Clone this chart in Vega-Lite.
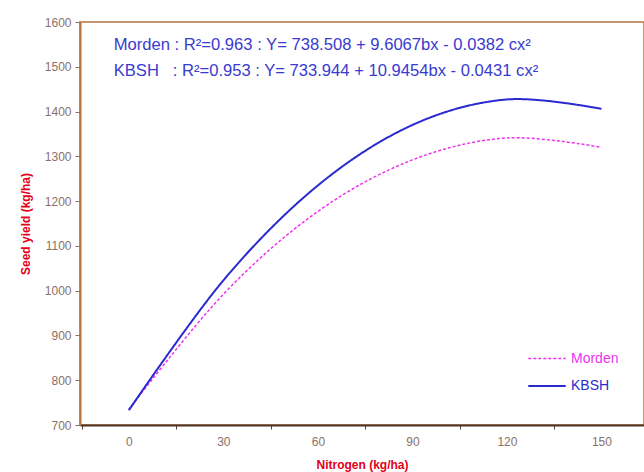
{
  "$schema": "https://vega.github.io/schema/vega-lite/v6.json",
  "width": 564,
  "height": 403,
  "autosize": {"type": "none"},
  "padding": {"left": 80, "top": 22, "right": 0, "bottom": 47},
  "background": "white",
  "config": {
    "font": "Liberation Sans",
    "view": {"stroke": "#b8733c", "strokeWidth": 1.5}
  },
  "layer": [
    {
      "data": {
        "values": [
          {"n": 0, "series": "Morden", "yield": 735},
          {"n": 30, "series": "Morden", "yield": 992},
          {"n": 60, "series": "Morden", "yield": 1177},
          {"n": 90, "series": "Morden", "yield": 1292},
          {"n": 120, "series": "Morden", "yield": 1341},
          {"n": 150, "series": "Morden", "yield": 1320},
          {"n": 0, "series": "KBSH", "yield": 733},
          {"n": 30, "series": "KBSH", "yield": 1023},
          {"n": 60, "series": "KBSH", "yield": 1235},
          {"n": 90, "series": "KBSH", "yield": 1370},
          {"n": 120, "series": "KBSH", "yield": 1427},
          {"n": 150, "series": "KBSH", "yield": 1406}
        ]
      },
      "mark": {"type": "line", "interpolate": "cardinal", "clip": true},
      "encoding": {
        "x": {
          "field": "n",
          "type": "quantitative",
          "scale": {"domain": [-15.5, 163.5], "nice": false, "zero": false},
          "axis": {
            "title": "Nitrogen (kg/ha)",
            "values": [-15, 0, 15, 30, 45, 60, 75, 90, 105, 120, 135, 150],
            "labelExpr": "datum.value % 30 === 0 ? datum.label : ''",
            "tickOpacity": {"condition": {"test": "datum.value % 30 === 0", "value": 0}, "value": 1},
            "grid": false,
            "domainColor": "#4a3426",
            "domainWidth": 2,
            "tickColor": "#5a4030",
            "tickSize": 4,
            "labelPadding": 7,
            "labelColor": "#8c6f68",
            "labelFontSize": 12,
            "labelFont": "Liberation Sans",
            "titleColor": "#e3001b",
            "titleFont": "Liberation Sans",
            "titleFontSize": 12,
            "titleFontWeight": "bold",
            "titlePadding": 12
          }
        },
        "y": {
          "field": "yield",
          "type": "quantitative",
          "scale": {"domain": [700, 1600], "nice": false, "zero": false},
          "axis": {
            "title": "Seed yield (kg/ha)",
            "values": [700, 800, 900, 1000, 1100, 1200, 1300, 1400, 1500, 1600],
            "format": "d",
            "grid": false,
            "domainColor": "#b8733c",
            "domainWidth": 2,
            "tickColor": "#8c6f68",
            "tickSize": 5,
            "labelPadding": 4,
            "labelColor": "#8c6f68",
            "labelFontSize": 12,
            "labelFont": "Liberation Sans",
            "titleColor": "#e3001b",
            "titleFont": "Liberation Sans",
            "titleFontSize": 12,
            "titleFontWeight": "bold",
            "titlePadding": 12
          }
        },
        "color": {
          "field": "series",
          "type": "nominal",
          "sort": ["Morden", "KBSH"],
          "scale": {"domain": ["Morden", "KBSH"], "range": ["#ee33ee", "#2a2ad0"]},
          "legend": {
            "title": null,
            "orient": "none",
            "legendX": 447,
            "legendY": 317,
            "padding": 0,
            "symbolType": "stroke",
            "symbolSize": 1400,
            "symbolStrokeWidth": 2,
            "labelFontSize": 14,
            "labelFont": "Liberation Sans",
            "rowPadding": 0,
            "labelOffset": 4,
            "encode": {
              "labels": {"update": {"fill": {"signal": "datum.value === 'Morden' ? '#ee33ee' : '#2a2ad0'"}}}
            }
          }
        },
        "strokeDash": {
          "field": "series",
          "type": "nominal",
          "sort": ["Morden", "KBSH"],
          "scale": {"domain": ["Morden", "KBSH"], "range": [[3, 2], [1, 0]]},
          "legend": null
        },
        "strokeWidth": {
          "field": "series",
          "type": "nominal",
          "scale": {"domain": ["Morden", "KBSH"], "range": [1.5, 2]},
          "legend": null
        }
      }
    },
    {
      "data": {"values": [{"label": "Morden : R²=0.963 : Y= 738.508 + 9.6067bx - 0.0382 cx²"}]},
      "mark": {"type": "text", "align": "left", "baseline": "alphabetic", "font": "Liberation Sans", "fontSize": 16.6, "color": "#3a3ad0"},
      "encoding": {
        "x": {"datum": -4.8},
        "y": {"datum": 1537},
        "text": {"field": "label"}
      }
    },
    {
      "data": {"values": [{"label": "KBSH\u00a0\u00a0\u00a0: R²=0.953 : Y= 733.944 + 10.9454bx - 0.0431 cx²"}]},
      "mark": {"type": "text", "align": "left", "baseline": "alphabetic", "font": "Liberation Sans", "fontSize": 16.6, "color": "#3a3ad0"},
      "encoding": {
        "x": {"datum": -4.8},
        "y": {"datum": 1479},
        "text": {"field": "label"}
      }
    }
  ]
}
